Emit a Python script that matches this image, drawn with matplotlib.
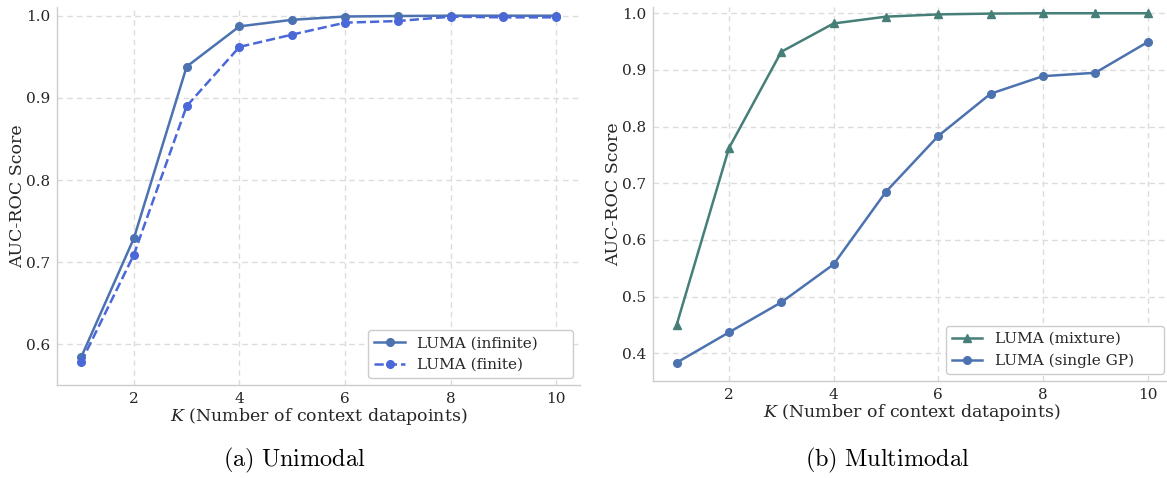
import numpy as np
import matplotlib
matplotlib.use("Agg")
import matplotlib.pyplot as plt

# -----------------------------
# Data
# -----------------------------
k_values = [1, 2, 3, 4, 5, 6, 7, 8, 9, 10]

# (a) Unimodal
auc_infinite = [0.584, 0.729, 0.938, 0.987, 0.995, 0.999, 0.9996, 1.000, 1.000, 1.000]
auc_finite = [0.578, 0.709, 0.890, 0.962, 0.977, 0.9915, 0.9935, 0.9988, 0.998, 0.998]

# (b) Multimodal
auc_mixture = [0.450, 0.762, 0.932, 0.982, 0.994, 0.998, 0.9994, 1.000, 1.000, 1.000]
auc_single_gp = [0.3835, 0.437, 0.490, 0.557, 0.685, 0.7835, 0.858, 0.889, 0.895, 0.949]

x_ticks = [2, 4, 6, 8, 10]

# -----------------------------
# Style
# -----------------------------
plt.rcParams.update({
    "font.family": "serif",
    "font.serif": ["DejaVu Serif"],
    "mathtext.fontset": "dejavuserif",
    "axes.edgecolor": "#cccccc",
    "axes.linewidth": 1.0,
    "text.color": "#262626",
    "axes.labelcolor": "#262626",
    "xtick.color": "#262626",
    "ytick.color": "#262626",
})

BLUE = "#4c72b0"
ROYAL = "#4a68d8"
TEAL = "#457f78"

fig = plt.figure(figsize=(11.67, 4.78), dpi=100)
ax_a = fig.add_axes([0.0491, 0.1946, 0.4479, 0.7908])
ax_b = fig.add_axes([0.5596, 0.2029, 0.4439, 0.7824])


def style_axes(ax):
    ax.grid(True, linestyle=(0, (4, 3)), color="#dcdcdc", linewidth=1.0)
    ax.set_axisbelow(True)
    for side in ["top", "right"]:
        ax.spines[side].set_visible(False)
    ax.tick_params(length=0, labelsize=11, pad=5)
    ax.set_xticks(x_ticks)
    ax.set_xlabel("$K$ (Number of context datapoints)", fontsize=12.5, labelpad=0)
    ax.set_ylabel("AUC-ROC Score", fontsize=12.5, labelpad=0)
    ax.set_xlim(0.55, 10.45)


# -----------------------------
# (a) Unimodal
# -----------------------------
ax_a.plot(k_values, auc_infinite, "-o", color=BLUE, lw=1.8, ms=5.5, label="LUMA (infinite)      ")
ax_a.plot(k_values, auc_finite, "--o", color=ROYAL, lw=1.8, ms=5.5, label="LUMA (finite)")
style_axes(ax_a)
ax_a.set_ylim(0.5505, 1.0106)
ax_a.set_yticks([0.6, 0.7, 0.8, 0.9, 1.0])

# -----------------------------
# (b) Multimodal
# -----------------------------
ax_b.plot(k_values, auc_mixture, "-^", color=TEAL, lw=1.8, ms=5.5, label="LUMA (mixture)")
ax_b.plot(k_values, auc_single_gp, "-o", color=BLUE, lw=1.8, ms=5.5, label="LUMA (single GP)     ")
style_axes(ax_b)
ax_b.set_ylim(0.3512, 1.011)
ax_b.set_yticks([0.4, 0.5, 0.6, 0.7, 0.8, 0.9, 1.0])

for ax in (ax_a, ax_b):
    leg = ax.legend(loc="lower right", fontsize=11, frameon=True, fancybox=True,
                    framealpha=1.0, edgecolor="#cccccc", borderaxespad=0.45)
    leg.get_frame().set_linewidth(1.0)

# -----------------------------
# Subfigure captions
# -----------------------------
fig.text(294.5 / 1167, 1 - 460 / 478, r"$\mathrm{(a)\ Unimodal}$", fontsize=17.5,
         ha="center", va="center", color="black", math_fontfamily="cm")
fig.text(887 / 1167, 1 - 460 / 478, r"$\mathrm{(b)\ Multimodal}$", fontsize=17.5,
         ha="center", va="center", color="black", math_fontfamily="cm")

fig.savefig("out.png", dpi=100)
plt.close(fig)
